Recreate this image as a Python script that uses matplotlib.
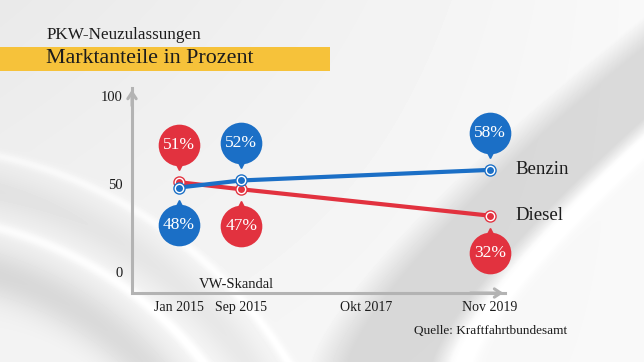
import numpy as np
import matplotlib.pyplot as plt
from matplotlib.patches import Rectangle
from matplotlib.transforms import offset_copy

plt.rcParams['font.family'] = ['Liberation Serif', 'DejaVu Serif']

# --- data ---
tick_labels = ['Jan 2015', 'Sep 2015', 'Okt 2017', 'Nov 2019']
tick_slots = [0, 1, 3, 5]          # horizontal layout slots of the labels
point_labels = ['Jan 2015', 'Sep 2015', 'Nov 2019']
benzin = [48, 52, 58]
diesel = [51, 47, 32]
benzin_side = [-1, 1, 1]           # callout below (-1) / above (+1)
diesel_side = [1, -1, -1]

RED = '#e2323f'
BLUE = '#1b6fc6'
YELLOW = '#f6c23a'
AXIS = '#b3b3b3'
TEXT = '#1c1c1c'

W, H = 644, 362


def background():
    yy, xx = np.mgrid[0:H, 0:W].astype(float)
    u, v = xx / W, yy / H
    img = 0.955 - 0.04 * (1 - v) * (1 - u) + 0.02 * u
    # grey swoosh bottom right
    xc = 0.48 + 0.55 * (1 - v) ** 1.3
    d = u - xc
    img -= 0.12 * np.clip(d / 0.06, 0, 1) * np.clip((0.22 - d) / 0.03, 0, 1)
    img += 0.04 * np.exp(-((d - 0.24) / 0.02) ** 2)
    # arcs bottom left
    r = np.hypot(xx + 100, yy - 600)
    img -= 0.10 * np.exp(-((r - 340) / 25) ** 2)
    img += 0.05 * np.exp(-((r - 385) / 6) ** 2)
    img -= 0.05 * np.exp(-((r - 420) / 20) ** 2)
    img += 0.04 * np.exp(-((r - 455) / 5) ** 2)
    return np.clip(img, 0, 1)


fig = plt.figure(figsize=(W / 100, H / 100), dpi=100)
bg = fig.add_axes([0, 0, 1, 1])
bg.imshow(background(), cmap='gray', vmin=0, vmax=1, extent=(0, W, H, 0), aspect='auto')
bg.set_xlim(0, W)
bg.set_ylim(H, 0)
bg.axis('off')

# header
bg.add_patch(Rectangle((0, 47), 330, 24, color=YELLOW, lw=0))
bg.text(47, 35, 'PKW-Neuzulassungen', fontsize=12.3, color=TEXT, va='center')
bg.text(46, 58.5, 'Marktanteile in Prozent', fontsize=15.8, color=TEXT, va='center')
bg.text(567, 331, 'Quelle: Kraftfahrtbundesamt', fontsize=9.5, color=TEXT,
        ha='right', va='center')

# chart axes
left, right, bottom, top = 132, 505, 293, 88
ax = fig.add_axes([left / W, 1 - bottom / H, (right - left) / W, (bottom - top) / H])
ax.patch.set_alpha(0)
for s in ax.spines.values():
    s.set_visible(False)
ax.set_xlim(-0.756, 5.24)
ax.set_ylim(-11.9, 104.5)

ax.plot([0, 0, 1], [1, 0, 0], transform=ax.transAxes, color=AXIS, lw=2.2,
        clip_on=False, solid_joinstyle='miter')
arrow = dict(arrowstyle='->, head_length=0.45, head_width=0.3', color=AXIS, lw=2.2)
ax.annotate('', xy=(0, 1.005), xytext=(0, 0.9), xycoords='axes fraction', arrowprops=arrow)
ax.annotate('', xy=(1.003, 0), xytext=(0.9, 0), xycoords='axes fraction', arrowprops=arrow)

ax.set_yticks([0, 50, 100])
ax.set_yticklabels(['0', '50', '100'], fontsize=10.5, color=TEXT)
ax.set_xticks(tick_slots)
ax.set_xticklabels(tick_labels, fontsize=10, color=TEXT)
ax.tick_params(length=0)
ax.tick_params(axis='y', pad=6.5)
ax.tick_params(axis='x', pad=6)

slot_of = dict(zip(tick_labels, tick_slots))
xs = [slot_of[m] for m in point_labels]

ax.text(slot_of['Sep 2015'] - 0.08, -7, 'VW-Skandal', fontsize=10.5, color=TEXT,
        ha='center', va='center')


def callout(x, y, val, color, side):
    t_circ = offset_copy(ax.transData, fig=fig, x=0, y=side * 37, units='dots')
    t_tip = offset_copy(ax.transData, fig=fig, x=0, y=side * 18, units='dots')
    ax.plot(x, y, marker='v' if side > 0 else '^', ms=8, color=color,
            transform=t_tip, clip_on=False, zorder=5)
    ax.plot(x, y, marker='o', ms=30, color=color, mew=0,
            transform=t_circ, clip_on=False, zorder=5)
    ax.text(x, y, f'{val}%', transform=t_circ, ha='center', va='center',
            color='white', fontsize=12.5, zorder=6)


for vals, sides, color, name in [(diesel, diesel_side, RED, 'Diesel'),
                                  (benzin, benzin_side, BLUE, 'Benzin')]:
    ax.plot(xs, vals, color=color, lw=3, solid_capstyle='round', zorder=3)
    ax.plot(xs, vals, 'o', ms=9, color=color, mew=0, zorder=4)
    ax.plot(xs, vals, 'o', ms=6, mfc='none', mec='white', mew=1, zorder=4)
    for x, y, s in zip(xs, vals, sides):
        callout(x, y, y, color, s)
    t_lab = offset_copy(ax.transData, fig=fig, x=25, y=0, units='dots')
    ax.text(xs[-1], vals[-1], name, transform=t_lab, fontsize=13.5, color=TEXT,
            va='center', ha='left', clip_on=False)

fig.savefig('out.png', dpi=100)
